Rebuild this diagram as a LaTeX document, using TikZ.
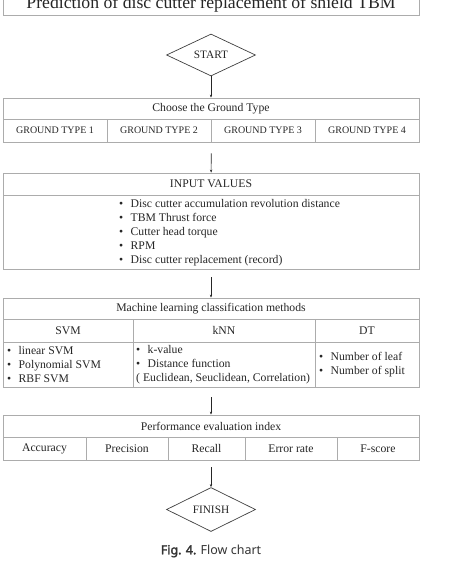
\documentclass[tikz,border=0pt]{standalone}
\usepackage{fontspec}
\setmainfont{Liberation Serif}
\newfontfamily\capfont{Noto Sans}[AutoFakeBold=2.5]
\usetikzlibrary{shapes.geometric,arrows.meta}
\newcommand\itm[1]{\makebox[11.5pt][l]{\textbullet}#1}
\tikzset{
  cell/.style n args={2}{draw=gray!65, line width=0.8pt, inner sep=0pt,
    minimum width=#1, minimum height=#2, text=black!85},
  small/.style={font=\fontsize{10}{12}\selectfont},
  term/.style={draw=black!75, line width=0.7pt, shape=diamond, inner sep=0pt,
    minimum width=89pt, minimum height=42pt, text=black!85,
    font=\fontsize{11.3}{13}\selectfont},
  flow/.style={-{Stealth[length=3pt,width=2.4pt]}, line width=0.6pt, black!85},
  list/.style={align=left, inner sep=0pt, anchor=west, text=black!85,
    font=\fontsize{11.7}{14}\selectfont}
}
\begin{document}
\begin{tikzpicture}[x=1pt,y=-1pt,font=\fontsize{11.7}{14}\selectfont]
\useasboundingbox (0,0) rectangle (471,567);
\clip (0,0) rectangle (471,567);
% title
\node[cell={416pt}{22pt}, font=\fontsize{17.7}{20}\selectfont] (title) at (211,4) {Prediction of disc cutter replacement of shield TBM};
\node[term] (start) at (211,55) {START};
% ground type
\node[cell={416pt}{21pt}] (gtitle) at (211,108.5) {Choose the Ground Type};
\node[cell={104pt}{23pt}, small] (gt1) at (55,130.5) {GROUND TYPE 1};
\node[cell={104pt}{23pt}, small] (gt2) at (159,130.5) {GROUND TYPE 2};
\node[cell={104pt}{23pt}, small] (gt3) at (263,130.5) {GROUND TYPE 3};
\node[cell={104pt}{23pt}, small] (gt4) at (367,130.5) {GROUND TYPE 4};
% input values
\node[cell={416pt}{22pt}] (intitle) at (211,184) {INPUT VALUES};
\node[cell={416pt}{74pt}] (inbody) at (211,232) {};
\node[list] (inlist) at (119,232.5) {\itm{Disc cutter accumulation revolution distance}\\
  \itm{TBM Thrust force}\\ \itm{Cutter head torque}\\ \itm{RPM}\\
  \itm{Disc cutter replacement (record)}};
% classification methods
\node[cell={416pt}{21pt}] (mtitle) at (211,308.5) {Machine learning classification methods};
\node[cell={130pt}{23pt}] (svm) at (68,330.5) {SVM};
\node[cell={182pt}{23pt}] (knn) at (224,330.5) {kNN};
\node[cell={104pt}{23pt}] (dt) at (367,330.5) {DT};
\node[cell={130pt}{45pt}] (svmbody) at (68,364.5) {};
\node[cell={182pt}{45pt}] (knnbody) at (224,364.5) {};
\node[cell={104pt}{45pt}] (dtbody) at (367,364.5) {};
\node[list] (svmlist) at (7,365) {\itm{linear SVM}\\ \itm{Polynomial SVM}\\ \itm{RBF SVM}};
\node[list] (knnlist) at (136,365) {\itm{k-value}\\ \itm{Distance function}\\ ( Euclidean, Seuclidean, Correlation)};
\node[list] (dtlist) at (319,364.5) {\itm{Number of leaf}\\ \itm{Number of split}};
% performance index
\node[cell={416pt}{22pt}] (ptitle) at (211,426) {Performance evaluation index};
\node[cell={83pt}{23pt}] (acc) at (44.5,448.5) {Accuracy};
\node[cell={82pt}{23pt}] (prec) at (127,448.5) {Precision};
\node[cell={77pt}{23pt}] (rec) at (206.5,448.5) {Recall};
\node[cell={92pt}{23pt}] (err) at (291,448.5) {Error rate};
\node[cell={82pt}{23pt}] (fsc) at (378,448.5) {F-score};
\node[term] (finish) at (211,509.5) {FINISH};
\node[text=black!80, font=\capfont\fontsize{12.5}{15}\selectfont] (caption) at (211,551) {\textbf{Fig. 4.} Flow chart};
% arrows
\draw[flow] (start) -- (gtitle);
\draw[flow, shorten <=11pt] (gt2.south east) -- (intitle);
\draw[flow, shorten <=8pt] (inbody) -- (mtitle);
\draw[flow, shorten <=10pt] (knnbody.south -| mtitle.south) -- (ptitle);
\draw[flow, shorten <=7pt] (rec.south -| ptitle.south) -- (finish);
\end{tikzpicture}
\end{document}
